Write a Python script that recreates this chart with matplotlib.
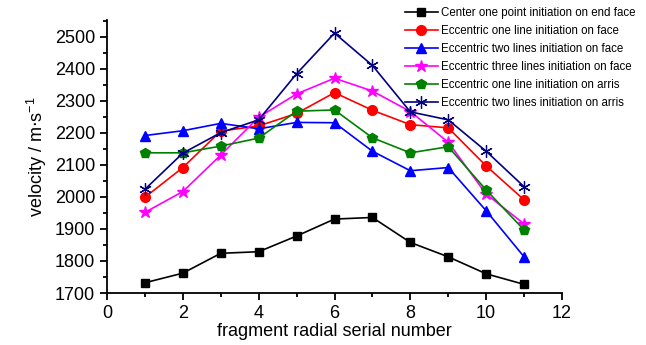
import matplotlib.pyplot as plt
from matplotlib.ticker import MultipleLocator

plt.rcParams['font.family'] = ['Liberation Sans', 'DejaVu Sans']

x = [1, 2, 3, 4, 5, 6, 7, 8, 9, 10, 11]

center_point_end = [1732, 1762, 1824, 1829, 1878, 1931, 1936, 1858, 1813, 1760, 1727]
ecc_one_line_face = [1999, 2092, 2206, 2222, 2261, 2326, 2271, 2226, 2216, 2097, 1991]
ecc_two_lines_face = [2192, 2207, 2230, 2213, 2233, 2232, 2143, 2082, 2092, 1957, 1813]
ecc_three_lines_face = [1952, 2017, 2131, 2249, 2322, 2371, 2331, 2267, 2171, 2009, 1916]
ecc_one_line_arris = [2138, 2138, 2159, 2184, 2268, 2272, 2185, 2138, 2157, 2022, 1897]
ecc_two_lines_arris = [2024, 2137, 2201, 2241, 2385, 2512, 2411, 2266, 2241, 2143, 2032]

labels = ['Center one point initiation on end face',
          'Eccentric one line initiation on face',
          'Eccentric two lines initiation on face',
          'Eccentric three lines initiation on face',
          'Eccentric one line initiation on arris',
          'Eccentric two lines initiation on arris']

fig = plt.figure(figsize=(6.46, 3.45), dpi=100)
ax = fig.add_axes([107/646, 1 - 293/345, (562-107)/646, (293-20)/345])

ax.plot(x, center_point_end, color='black', marker='s', ms=6, lw=1.2, label=labels[0])
ax.plot(x, ecc_one_line_face, color='red', marker='o', ms=7, lw=1.2, label=labels[1])
ax.plot(x, ecc_two_lines_face, color='blue', marker='^', ms=7, lw=1.2, label=labels[2])
ax.plot(x, ecc_three_lines_face, color='magenta', marker='*', ms=9, lw=1.2, label=labels[3])
ax.plot(x, ecc_one_line_arris, color='green', marker='p', ms=7.5, lw=1.2, label=labels[4])
ax.plot(x, ecc_two_lines_arris, color='#000080', marker=(6, 2, 0), ms=9, mew=0.9, lw=1.2,
        label=labels[5])

ax.set_xlim(0, 12)
ax.set_ylim(1700, 2553)
ax.xaxis.set_major_locator(MultipleLocator(2))
ax.xaxis.set_minor_locator(MultipleLocator(1))
ax.yaxis.set_major_locator(MultipleLocator(100))
ax.yaxis.set_minor_locator(MultipleLocator(50))
ax.spines['top'].set_visible(False)
ax.spines['right'].set_visible(False)
for s in ('left', 'bottom'):
    ax.spines[s].set_linewidth(1.3)
ax.tick_params(which='both', direction='out', labelsize=13, width=1.3)
ax.tick_params(which='major', length=5)
ax.tick_params(which='minor', length=3)

ax.set_xlabel('fragment radial serial number', fontsize=13, labelpad=1)
ax.set_ylabel('velocity / m$\\cdot$s$^{\\mathregular{-1}}$', fontsize=13)

fig.legend(loc='upper right', bbox_to_anchor=(643/646, 1.0),
           frameon=False, fontsize=8.3, handlelength=2.8, labelspacing=0.52,
           handletextpad=0.3, borderaxespad=0.25)

fig.savefig('out.png', dpi=100)
